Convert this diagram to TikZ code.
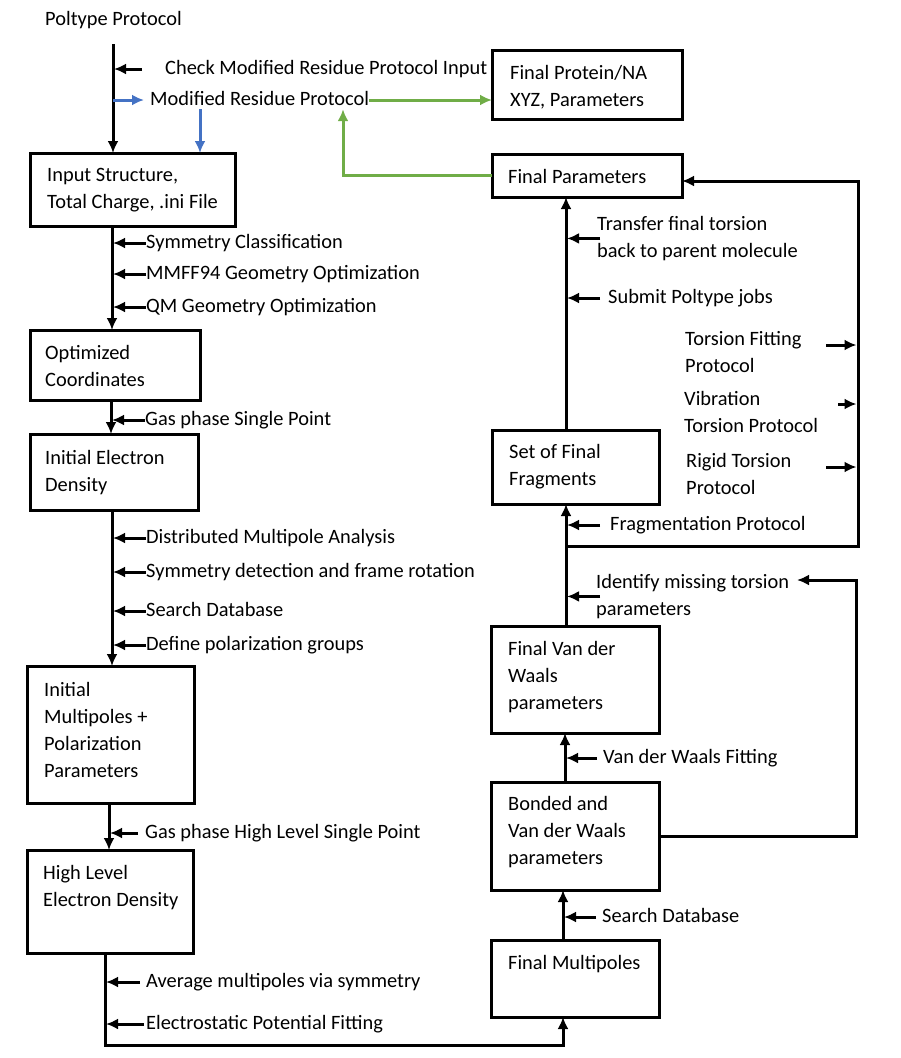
\documentclass[tikz,border=0pt]{standalone}
\usepackage{fontspec}
\setmainfont{Carlito}
\usetikzlibrary{arrows.meta,positioning}
\definecolor{mblue}{RGB}{68,114,196}
\definecolor{mgreen}{RGB}{112,173,71}

\begin{document}
\begin{tikzpicture}[x=1pt,y=-1pt,
  >={Latex[length=12pt,width=11pt]},
  every node/.style={font=\fontsize{20.4}{27}\selectfont, inner sep=0pt},
  box/.style={draw, line width=3pt, anchor=north west, outer sep=0pt},
  txt/.style={anchor=north west, align=left},
  lbl/.style={anchor=west, text height=14pt, text depth=4pt},
  flow/.style={->, line width=3pt},
  tick/.style={->, line width=3pt, shorten >=1pt},
  blueflow/.style={->, line width=3pt, draw=mblue},
  greenflow/.style={->, line width=3pt, draw=mgreen}]
\useasboundingbox (0,0) rectangle (900,1058);

%============ boxes
\node[box, minimum width=190pt, minimum height=69pt] (protein) at (492,50) {};
\node[box, minimum width=205pt, minimum height=73pt] (input) at (30,153) {};
\node[box, minimum width=190pt, minimum height=43pt] (params) at (492,154) {};
\node[box, minimum width=170pt, minimum height=70pt] (opt) at (30,330) {};
\node[box, minimum width=168pt, minimum height=76pt] (ied) at (30,434) {};
\node[box, minimum width=167pt, minimum height=137pt] (imp) at (27,666) {};
\node[box, minimum width=166pt, minimum height=103pt] (hl) at (27,850) {};
\node[box, minimum width=167pt, minimum height=74pt] (frag) at (492,430) {};
\node[box, minimum width=168pt, minimum height=107pt] (vdw) at (491,626) {};
\node[box, minimum width=168pt, minimum height=108pt] (bond) at (491,782) {};
\node[box, minimum width=168pt, minimum height=77pt] (fm) at (491,940) {};

%============ box texts
\node[txt] (proteintxt) at (510,65) {Final Protein/NA\\XYZ, Parameters};
\node[txt] (inputtxt) at (47,168) {Input Structure,\\Total Charge, .ini File};
\node[txt] (paramstxt) at (508,169) {Final Parameters};
\node[txt] (opttxt) at (45,345) {Optimized\\Coordinates};
\node[txt] (iedtxt) at (45,450) {Initial Electron\\Density};
\node[txt] (imptxt) at (44,682) {Initial\\Multipoles +\\Polarization\\Parameters};
\node[txt] (hltxt) at (43,865) {High Level\\Electron Density};
\node[txt] (fragtxt) at (509,444) {Set of Final\\Fragments};
\node[txt] (vdwtxt) at (508,641) {Final Van der\\Waals\\parameters};
\node[txt] (bondtxt) at (508,796) {Bonded and\\Van der Waals\\parameters};
\node[txt] (fmtxt) at (508,955) {Final Multipoles};

%============ step labels
\node[lbl] (title) at (45,20) {Poltype Protocol};
\node[lbl] (chk) at (165,69) {Check Modified Residue Protocol Input};
\node[lbl] (mod) at (150,100) {Modified Residue Protocol};
\node[lbl] (sym) at (146,243) {Symmetry Classification};
\node[lbl] (mmff) at (146,274) {MMFF94 Geometry Optimization};
\node[lbl] (qm) at (146,307) {QM Geometry Optimization};
\node[lbl] (gas) at (145,420) {Gas phase Single Point};
\node[lbl] (dma) at (146,538) {Distributed Multipole Analysis};
\node[lbl] (symd) at (146,572) {Symmetry detection and frame rotation};
\node[lbl] (sdb) at (146,611) {Search Database};
\node[lbl] (pol) at (146,645) {Define polarization groups};
\node[lbl] (gashl) at (145,833) {Gas phase High Level Single Point};
\node[lbl] (avg) at (146,982) {Average multipoles via symmetry};
\node[lbl] (esp) at (146,1024) {Electrostatic Potential Fitting};

\node[txt] (transfer) at (597,216) {Transfer final torsion\\back to parent molecule};
\node[lbl] (submit) at (608,298) {Submit Poltype jobs};
\node[txt] (tfit) at (685,331) {Torsion Fitting\\Protocol};
\node[txt] (vib) at (684,391) {Vibration\\Torsion Protocol};
\node[txt] (rigid) at (686,453) {Rigid Torsion\\Protocol};
\node[lbl] (fragp) at (610,525) {Fragmentation Protocol};
\node[txt] (ident) at (596,574) {Identify missing torsion\\parameters};
\node[lbl] (vdwfit) at (603,758) {Van der Waals Fitting};
\node[lbl] (sdbr) at (602,917) {Search Database};

%============ column points
\coordinate (c0) at (113,44);
\coordinate (c1) at ([xshift=82pt]input.south west);
\coordinate (c2) at ([xshift=81pt]opt.south west);
\coordinate (c3) at ([xshift=82pt]ied.south west);
\coordinate (c4) at ([xshift=82pt]imp.south west);
\coordinate (c5) at ([xshift=78pt]hl.south west);
\coordinate (r1) at ([xshift=72pt]fm.north west);
\coordinate (r2) at ([xshift=74pt]bond.north west);
\coordinate (r3) at ([xshift=75pt]vdw.north west);
\coordinate (r4) at ([xshift=74pt]frag.north west);
\coordinate (fj) at (566,546);
\coordinate (fr) at (858,546);
\coordinate (ir) at (856,580);
\coordinate (ie) at (797,580);
\coordinate (t1) at (826,345);
\coordinate (t2) at (838,404);
\coordinate (t3) at (826,467);

%============ main flow
\draw[flow] (c0) -- (c0 |- input.north);
\draw[flow] (c1) -- (c1 |- opt.north);
\draw[flow] (c2) -- (c2 |- ied.north);
\draw[flow] (c3) -- (c3 |- imp.north);
\draw[flow] (c4) -- (c4 |- hl.north);
\draw[flow] (c5) -- ++(0,92) -| (fm.south -| r1);
\draw[flow] (r1) -- (r1 |- bond.south);
\draw[flow] (r2) -- (r2 |- vdw.south);
\draw[flow] (r3) -- (r3 |- frag.south);
\draw[flow] (r4) -- (r4 |- params.south);
\draw[flow] (fj) -- (fr) |- ([yshift=-5.5pt]params.east);
\draw[flow] (bond.east) -| (ir) -- (ie);

%============ modified residue branch
\draw[blueflow, shorten >=6pt] (c0 |- mod.west) -- (mod.west);
\draw[blueflow] ([xshift=50pt]mod.south west) -- ([xshift=50pt]mod.south west |- input.north);
\draw[greenflow] (mod.east) -- (mod.east -| protein.west);
\draw[greenflow] (params.west) -| ([xshift=193pt]mod.south west);

%============ side arrows
\draw[tick] ([xshift=-23pt]chk.west) -- (c0 |- chk.west);
\draw[tick] (sym.west) -- (c1 |- sym.west);
\draw[tick] (mmff.west) -- (c1 |- mmff.west);
\draw[tick] (qm.west) -- (c1 |- qm.west);
\draw[tick] (gas.west) -- (c2 |- gas.west);
\draw[tick] (dma.west) -- (c3 |- dma.west);
\draw[tick] (symd.west) -- (c3 |- symd.west);
\draw[tick] (sdb.west) -- (c3 |- sdb.west);
\draw[tick] (pol.west) -- (c3 |- pol.west);
\draw[tick] ([xshift=-7pt]gashl.west) -- (c4 |- gashl.west);
\draw[tick] ([xshift=-6pt]avg.west) -- (c5 |- avg.west);
\draw[tick] ([xshift=-2pt]esp.west) -- (c5 |- esp.west);

\draw[tick] ([xshift=3pt]transfer.west) -- (r4 |- transfer.west);
\draw[tick] ([xshift=-8pt]submit.west) -- (r4 |- submit.west);
\draw[tick] ([xshift=-10pt]fragp.west) -- (r4 |- fragp.west);
\draw[tick] ([xshift=4pt]ident.west) -- (r3 |- ident.west);
\draw[tick] ([xshift=-6pt]vdwfit.west) -- (r2 |- vdwfit.west);
\draw[tick] ([xshift=-6pt]sdbr.west) -- (r1 |- sdbr.west);
\draw[tick, shorten >=1.5pt] (t1) -- (t1 -| fr);
\draw[tick, shorten >=1.5pt] (t2) -- (t2 -| fr);
\draw[tick, shorten >=1.5pt] (t3) -- (t3 -| fr);
\end{tikzpicture}
\end{document}
